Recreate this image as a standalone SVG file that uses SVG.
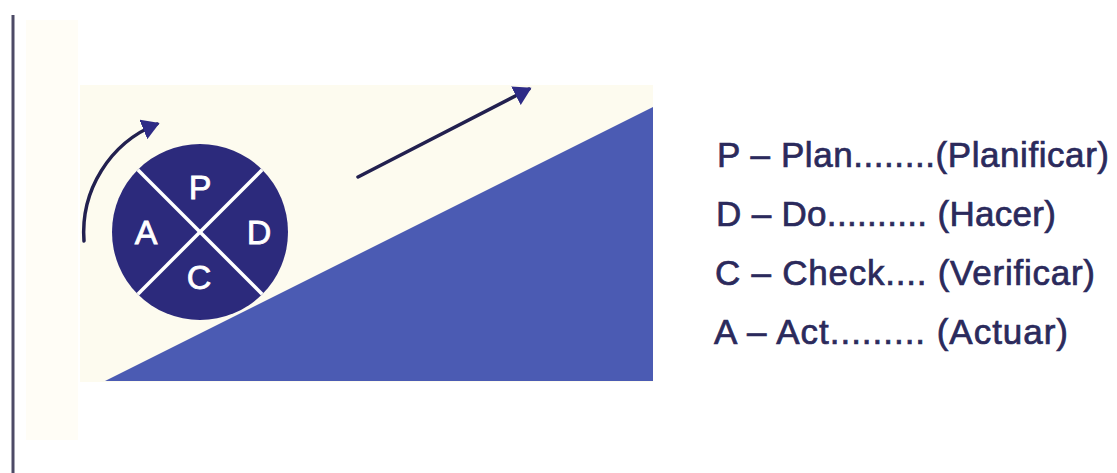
<svg xmlns="http://www.w3.org/2000/svg" width="1117" height="473" viewBox="0 0 1117 473">
  <style>
    .legend { font-family: "Liberation Sans", Arial, sans-serif; font-size: 35px; fill: #2b2a5c; stroke: #2b2a5c; stroke-width: 0.7; }
    .letter { font-family: "Liberation Sans", Arial, sans-serif; font-size: 34px; fill: #ffffff; stroke: #ffffff; stroke-width: 0.8; text-anchor: middle; }
    .arrow { fill: none; stroke: #22204f; stroke-width: 3.5; stroke-linecap: round; }
  </style>
  <defs>
    <marker id="head" markerWidth="6" markerHeight="6" refX="4.2" refY="3" orient="auto" markerUnits="strokeWidth">
      <path d="M0,0 L5,3 L0,6 Z" fill="#2e2b86"/>
    </marker>
  </defs>
  <rect width="1117" height="473" fill="#ffffff"/>
  <rect x="26" y="20" width="52" height="420" fill="#fffdf6"/>
  <line x1="13" y1="15" x2="13" y2="473" stroke="#4d4a66" stroke-width="3"/>
  <g id="panel">
    <rect x="80" y="85" width="573" height="297" fill="#fdfbef"/>
    <polygon points="105,381 653,107 653,381" fill="#4b5bb3"/>
  </g>
  <g id="pdca-wheel">
    <circle cx="200" cy="232" r="88" fill="#2c2a7c"/>
    <line x1="137.8" y1="169.8" x2="262.2" y2="294.2" stroke="#ffffff" stroke-width="3.5"/>
    <line x1="262.2" y1="169.8" x2="137.8" y2="294.2" stroke="#ffffff" stroke-width="3.5"/>
    <text class="letter" x="200" y="199">P</text>
    <text class="letter" x="259" y="244">D</text>
    <text class="letter" x="146" y="244">A</text>
    <text class="letter" x="199" y="289">C</text>
  </g>
  <g id="connectors">
    <path class="arrow" d="M84,241 A117,117 0 0 1 157,124" marker-end="url(#head)"/>
    <line class="arrow" x1="358" y1="177" x2="529" y2="89" marker-end="url(#head)"/>
  </g>
  <g id="legend">
    <text class="legend" x="717" y="167" textLength="392" lengthAdjust="spacing">P – Plan........(Planificar)</text>
    <text class="legend" x="716" y="226" textLength="340" lengthAdjust="spacing">D – Do.......... (Hacer)</text>
    <text class="legend" x="715" y="285" textLength="380" lengthAdjust="spacing">C – Check.... (Verificar)</text>
    <text class="legend" x="714" y="344" textLength="354" lengthAdjust="spacing">A – Act......... (Actuar)</text>
  </g>
</svg>
